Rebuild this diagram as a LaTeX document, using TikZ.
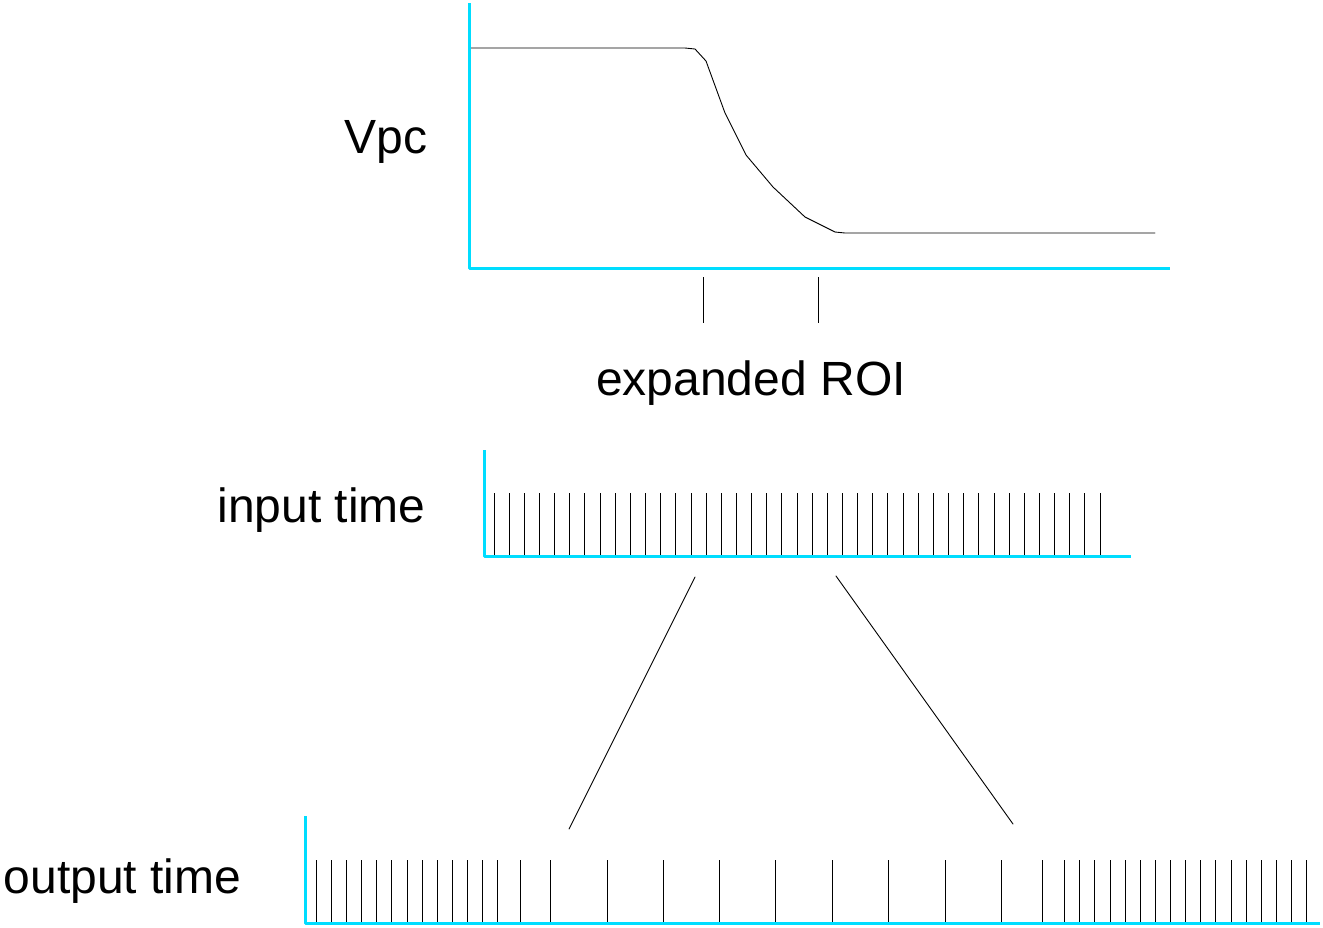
\documentclass[tikz,border=0pt]{standalone}
\usepackage{fontspec}
\setmainfont{Liberation Sans}
\definecolor{axiscyan}{RGB}{0,221,255}
\begin{document}
\begin{tikzpicture}[x=1pt, y=-1pt, font=\fontsize{48}{58}\selectfont, line join=round, line cap=round, >=stealth,
	axisline/.style={draw=axiscyan, line width=3pt, line cap=butt},
	tickline/.style={line width=0.9pt, line cap=butt}]
	\useasboundingbox (0,0) rectangle (1323,927);
	% Parameters
	\def\tin{494}
	\def\dt{15.15}
	% Points
	\coordinate (O_1) at (469,268);
	\coordinate (Y_1) at (469,3);
	\coordinate (X_1) at (1170,268);
	\coordinate (O_2) at (484,556);
	\coordinate (Y_2) at (484,450);
	\coordinate (X_2) at (1131,556);
	\coordinate (O_3) at (305,923);
	\coordinate (Y_3) at (305,816);
	\coordinate (X_3) at (1320,923);
	\coordinate (A) at (695,577);
	\coordinate (A') at (569,829);
	\coordinate (B) at (836,576);
	\coordinate (B') at (1013,824);
	% Labels
	\node[inner sep=0, anchor=base] (vpc) at (386,153) {Vpc};
	\node[inner sep=0, anchor=base] (roi) at (751,395) {expanded ROI};
	\node[inner sep=0, anchor=base] (tin) at (321.5,522) {input time};
	\node[inner sep=0, anchor=base] (tout) at (122.5,893) {output time};
	% Vpc curve
	\draw[line width=0.9pt] (471,48) -- (685,48) -- (695,49) -- (706,61) -- (725,113) -- (746,155)
		-- (773,187) -- (805,217) -- (835,232) -- (845,233) -- (1155,233);
	% ROI marks
	\foreach \x in {703,818}
	\draw[tickline] (\x,277) -- (\x,323);
	% Input samples
	\foreach \i in {0,...,40}
	\draw[tickline] ({\tin+\dt*\i},493) -- ({\tin+\dt*\i},555);
	% Output samples
	\foreach \x in {316.3,331.4,346.5,361.7,376.8,391.9,407,422.2,437.3,452.4,467.5,482.6,497.7,
		520.7,550.7,607,663.3,719.7,775.7,832.3,888.7,945,1001.3,1042.3,1064.7,
		1079.7,1094.8,1110,1125.1,1140.2,1155.3,1170.5,1185.6,1200.7,1215.8,1231,1246.1,1261.2,1276.3,1291.5,1306.6}
	\draw[tickline] (\x,860) -- (\x,921.5);
	% Axes
	\foreach \k in {1,2,3}
	\draw[axisline] (Y_\k) -- (O_\k) -- (X_\k);
	% Expansion
	\draw[line width=0.9pt] (A) -- (A');
	\draw[line width=0.9pt] (B) -- (B');
\end{tikzpicture}
\end{document}
